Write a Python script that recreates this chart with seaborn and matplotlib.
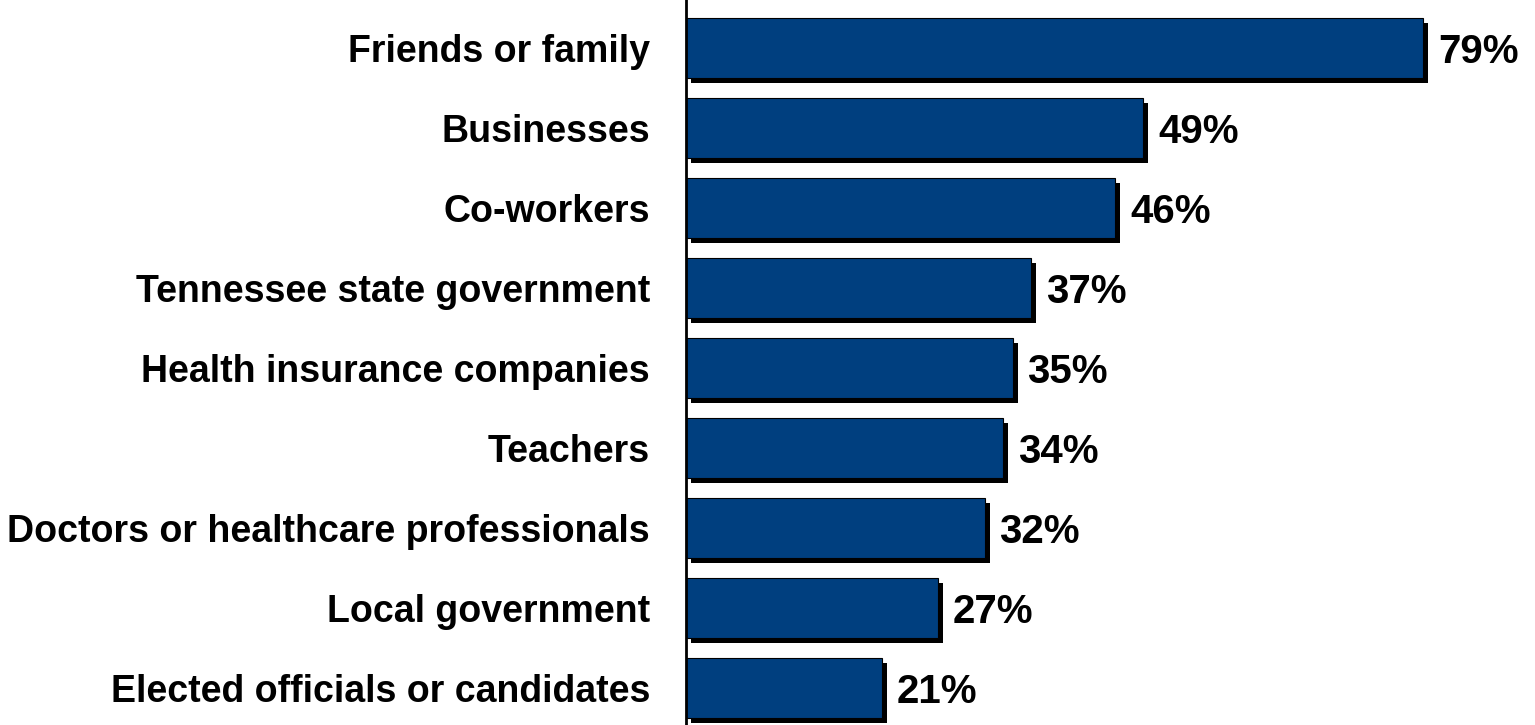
import matplotlib
matplotlib.use("Agg")
import matplotlib.pyplot as plt
import matplotlib.patheffects as pe
import seaborn as sns
import pandas as pd

# survey responses, share of respondents (%)
sources = ["Friends or family", "Businesses", "Co-workers",
           "Tennessee state government", "Health insurance companies",
           "Teachers", "Doctors or healthcare professionals",
           "Local government", "Elected officials or candidates"]
shares = [79, 49, 46, 37, 35, 34, 32, 27, 21]

df = pd.DataFrame({"source": sources, "share": shares})

sns.set_style("white")
plt.rcParams['font.family'] = ['Liberation Sans', 'DejaVu Sans']

fig = plt.figure(figsize=(15.35, 7.25), dpi=100)
ax = fig.add_axes([686/1535, 0, 793/1535, 1])

sns.barplot(data=df, x="share", y="source", orient="h", color="#003F7F",
            saturation=1, width=0.75, edgecolor="black", linewidth=0.8, ax=ax)

# drop shadow on the bars
shadow = [pe.SimplePatchShadow(offset=(3.6, -3.6), shadow_rgbFace="black", alpha=1), pe.Normal()]
for p in ax.patches:
    p.set_path_effects(shadow)

for i, v in enumerate(shares):
    ax.text(v + 1.6, i, f"{v}%", va="center_baseline", ha="left",
            fontsize=29, fontweight="bold", color="black")

ax.set_xlim(0, 85)
ax.set_ylim(8.4625, -0.6)
ax.set_xlabel("")
ax.set_ylabel("")
ax.set_xticks([])
ax.tick_params(axis="y", length=0, pad=26)
for lab in ax.get_yticklabels():
    lab.set_fontsize(27)
    lab.set_fontweight("bold")
    lab.set_color("black")
for s in ["top", "right", "bottom"]:
    ax.spines[s].set_visible(False)
ax.spines["left"].set_color("black")
ax.spines["left"].set_linewidth(2)

fig.savefig("out.png", dpi=100)
